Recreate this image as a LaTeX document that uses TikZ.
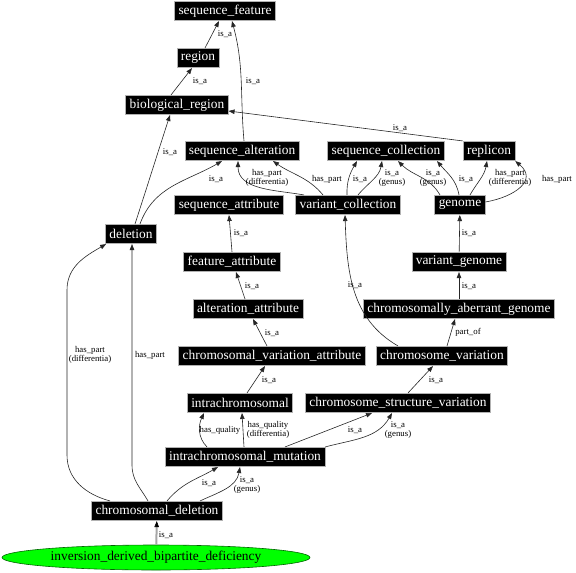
\documentclass[tikz,border=0pt]{standalone}
\usepackage{fontspec}
\setmainfont{Liberation Serif}
\usetikzlibrary{arrows.meta,shapes.geometric}
\begin{document}
\begin{tikzpicture}[x=1pt,y=1pt,
 box/.style={fill=black,draw=gray!60,line width=0.6pt,text=white,font=\fontsize{13.4}{14}\selectfont,inner xsep=4pt,inner ysep=0pt,minimum height=19.5pt},
 lbl/.style={font=\fontsize{8.8}{9}\selectfont,align=center,inner sep=0pt},
 edge/.style={draw=black!85,line width=0.6pt,-{Triangle[length=6pt,width=4.5pt]}},
]
\useasboundingbox (0,0) rectangle (576,-573);
% nodes
\node[box] (sf) at (225,-11) {sequence\_feature};
\node[box] (rg) at (198,-58) {region};
\node[box] (br) at (177,-105) {biological\_region};
\node[box] (sa) at (242,-151) {sequence\_alteration};
\node[box] (sc) at (386,-151) {sequence\_collection};
\node[box] (rp) at (489,-151) {replicon};
\node[box] (sat) at (229,-205) {sequence\_attribute};
\node[box] (vc) at (348,-205) {variant\_collection};
\node[box] (gn) at (460,-205) {genome};
\node[box] (dl) at (131,-234) {deletion};
\node[box] (fa) at (232,-262) {feature\_attribute};
\node[box] (vg) at (459,-262) {variant\_genome};
\node[box] (aa) at (248,-309) {alteration\_attribute};
\node[box] (cag) at (459,-309) {chromosomally\_aberrant\_genome};
\node[box] (cva) at (272,-356) {chromosomal\_variation\_attribute};
\node[box] (cv) at (442,-356) {chromosome\_variation};
\node[box] (ic) at (240,-403) {intrachromosomal};
\node[box] (csv) at (398,-403) {chromosome\_structure\_variation};
\node[box] (icm) at (245,-457) {intrachromosomal\_mutation};
\node[box] (cd) at (157,-511) {chromosomal\_deletion};
\node[ellipse,fill=green,draw=black!60!green,line width=0.6pt,minimum width=308pt,minimum height=25pt,inner sep=0pt,font=\fontsize{13.4}{14}\selectfont] (idbd) at (156,-557.5) {inversion\_derived\_bipartite\_deficiency};
% edges
\draw[edge] ([xshift=7]rg.north) -- ([xshift=-6]sf.south);
\draw[edge] ([xshift=2]sa.north) to[out=95,in=-75] ([xshift=7]sf.south);
\draw[edge] ([xshift=-6]br.north) -- ([xshift=-6]rg.south);
\draw[edge] ([xshift=4]dl.north) to[out=72,in=-108] ([xshift=-7]br.south);
\draw[edge] ([xshift=9]dl.north) to[out=70,in=-150] ([xshift=-20]sa.south);
\draw[edge] (rp.north west) -- ([yshift=-6]br.east);
\draw[edge] ([xshift=-44]vc.north) to[out=170,in=-90] ([xshift=-4]sa.south);
\draw[edge] ([xshift=-25]vc.north) to[out=130,in=-35] ([xshift=31]sa.south);
\draw[edge] ([xshift=-1]vc.north) to[out=92,in=-120] ([xshift=-29]sc.south);
\draw[edge] ([xshift=10]vc.north) to[out=50,in=-100] ([xshift=-4]sc.south);
\draw[edge] ([xshift=-20]gn.north) to[out=120,in=-45] ([xshift=12]sc.south);
\draw[edge] ([xshift=-1]gn.north) to[out=100,in=-50] ([xshift=51]sc.south);
\draw[edge] ([xshift=10]gn.north) to[out=60,in=-100] ([xshift=-2]rp.south);
\draw[edge] ([yshift=3]gn.east) to[out=10,in=-40,looseness=1.5] (rp.south east);
\draw[edge] (vg) -- (gn);
\draw[edge] (cag) -- (vg);
\draw[edge] ([xshift=5]cv.north) -- ([xshift=-4]cag.south);
\draw[edge] ([xshift=-44]cv.north) to[out=150,in=-88] ([xshift=-3]vc.south);
\draw[edge] ([xshift=10]csv.north) -- ([xshift=-9]cv.south);
\draw[edge] ([xshift=-5]cva.north) -- ([xshift=5]aa.south);
\draw[edge] ([xshift=-3]aa.north) -- ([xshift=4]fa.south);
\draw[edge] (fa.north) -- (sat.south);
\draw[edge] ([xshift=7]ic.north) -- ([xshift=-7]cva.south);
\draw[edge] ([xshift=-38]icm.north) to[out=135,in=-115] ([xshift=-36]ic.south);
\draw[edge] ([xshift=-1]icm.north) -- ([xshift=2]ic.south);
\draw[edge] ([xshift=40]icm.north) -- ([xshift=-26]csv.south);
\draw[edge] (icm.north east) to[out=15,in=-120] ([xshift=-6]csv.south);
\draw[edge] ([xshift=10]cd.north) to[out=50,in=-150] ([xshift=-27]icm.south);
\draw[edge] ([xshift=43]cd.north) to[out=25,in=-100] ([xshift=-5]icm.south);
\coordinate (p1) at (67,-455);
\coordinate (p2) at (67,-290);
\draw[edge] ([xshift=-47]cd.north) to[out=165,in=-90] (p1) -- (p2) to[out=90,in=-150] ([xshift=1]dl.south west);
\coordinate (p3) at (132,-465);
\draw[edge] ([xshift=-9]cd.north) to[out=120,in=-90] (p3) -- ([xshift=1]dl.south);
\draw[draw=gray!70,line width=2pt,-{Triangle[length=6pt,width=4.5pt,color=black,fill=black,line width=0.6pt]}] (idbd) -- (cd);
% labels
\node[lbl] (l1) at (225,-34) {is\_a};
\node[lbl] (l2) at (253,-81) {is\_a};
\node[lbl] (l3) at (200,-81) {is\_a};
\node[lbl] (l4) at (170,-152) {is\_a};
\node[lbl] (l5) at (216,-179) {is\_a};
\node[lbl] (l6) at (400,-128) {is\_a};
\node[lbl] (l7) at (267,-178) {has\_part\\(differentia)};
\node[lbl] (l8) at (327,-179) {has\_part};
\node[lbl] (l9) at (360,-179) {is\_a};
\node[lbl] (l10) at (392,-178) {is\_a\\(genus)};
\node[lbl] (l11) at (433,-178) {is\_a\\(genus)};
\node[lbl] (l12) at (466,-179) {is\_a};
\node[lbl] (l13) at (510,-178) {has\_part\\(differentia)};
\node[lbl] (l14) at (557,-179) {has\_part};
\node[lbl] (l15) at (469,-233) {is\_a};
\node[lbl] (l16) at (469,-286) {is\_a};
\node[lbl] (l17) at (468,-332) {part\_of};
\node[lbl] (l18) at (355,-285) {is\_a};
\node[lbl] (l19) at (436,-380) {is\_a};
\node[lbl] (l20) at (272,-333) {is\_a};
\node[lbl] (l21) at (252,-286) {is\_a};
\node[lbl] (l22) at (241,-233) {is\_a};
\node[lbl] (l23) at (269,-380) {is\_a};
\node[lbl] (l24) at (220,-430) {has\_quality};
\node[lbl] (l25) at (268,-430) {has\_quality\\(differentia)};
\node[lbl] (l26) at (355,-430) {is\_a};
\node[lbl] (l27) at (398,-430) {is\_a\\(genus)};
\node[lbl] (l28) at (209,-483) {is\_a};
\node[lbl] (l29) at (247,-485) {is\_a\\(genus)};
\node[lbl] (l30) at (90,-355) {has\_part\\(differentia)};
\node[lbl] (l31) at (150,-355) {has\_part};
\node[lbl] (l32) at (166,-535) {is\_a};
\end{tikzpicture}
\end{document}
